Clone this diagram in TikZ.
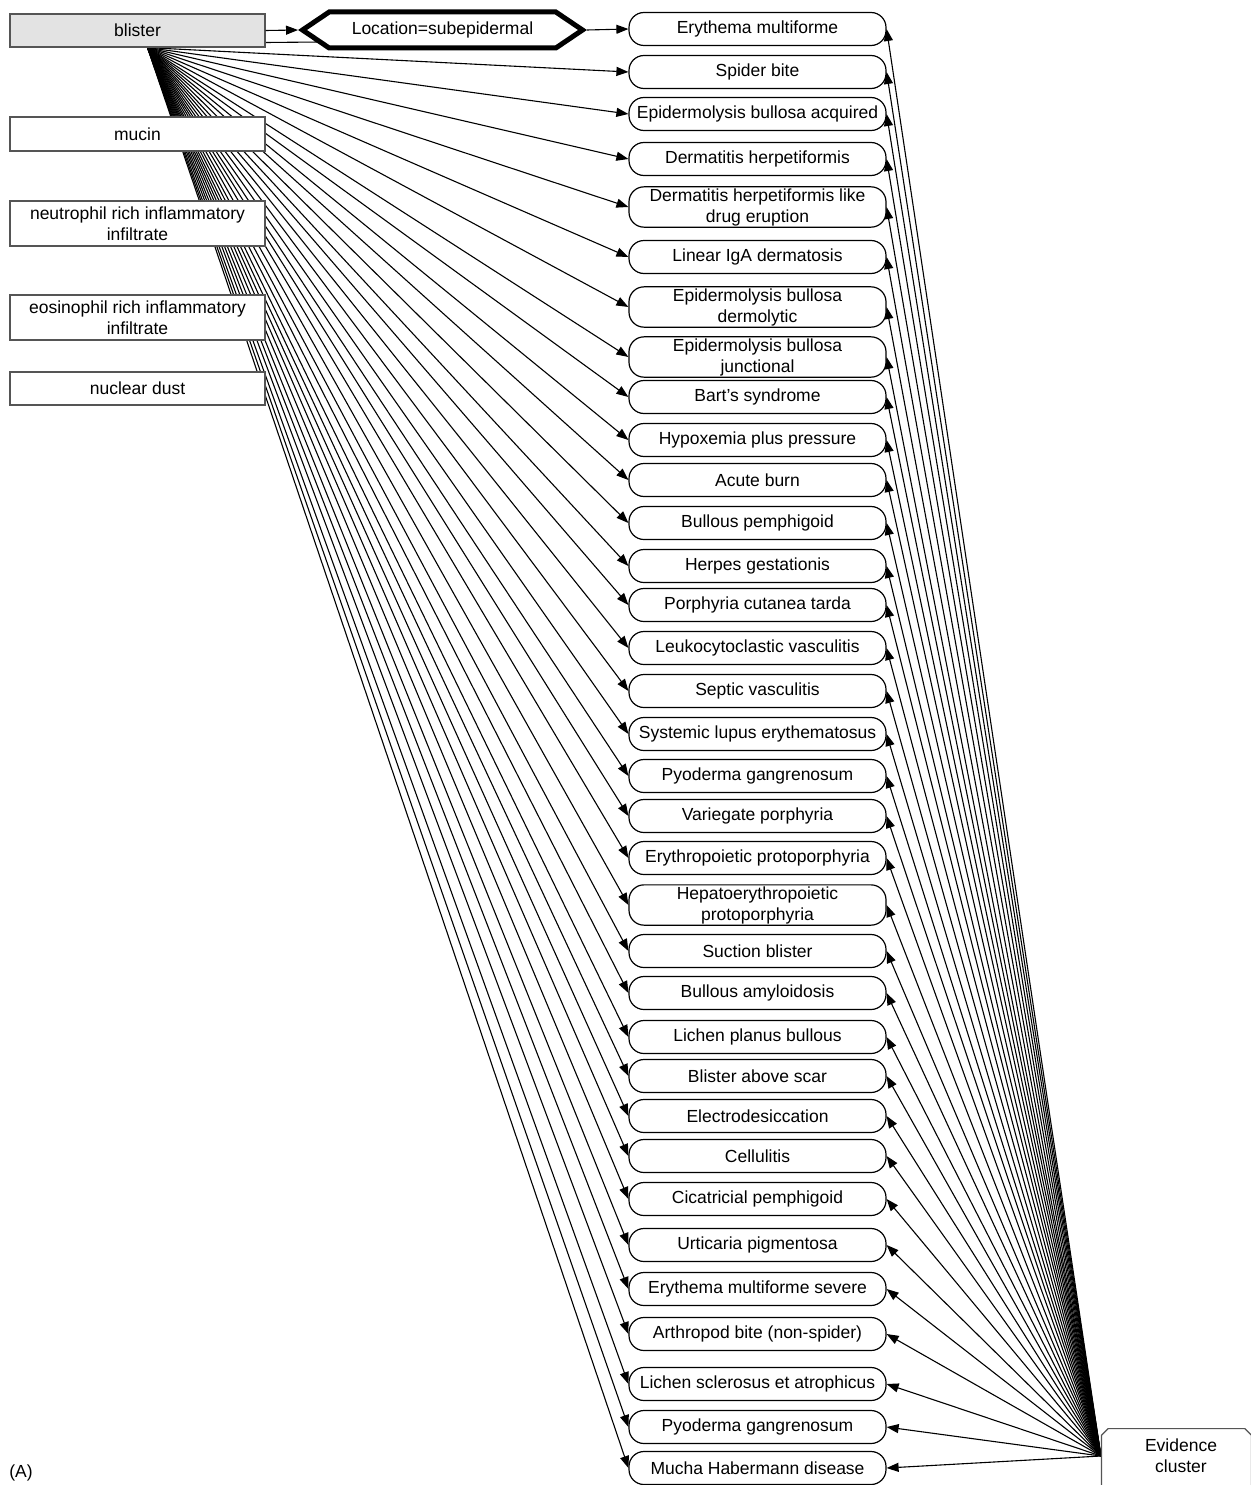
\documentclass[tikz,border=0pt]{standalone}
\usepackage{fontspec}
\setmainfont{Liberation Sans}
\usepackage{tikz}
\usetikzlibrary{arrows.meta, shapes.misc, shapes.symbols, backgrounds, calc}
\definecolor{blistergray}{HTML}{E3E3E3}
\definecolor{boxedge}{HTML}{555555}

\begin{document}
\begin{tikzpicture}[x=1pt, y=-1pt,
    every node/.style={font=\fontsize{17.5}{21}\selectfont, align=center},
    findbox/.style={draw=boxedge, line width=1.2pt, fill=white,
                    minimum width=255pt, minimum height=34pt, inner sep=2pt},
    dxbox/.style={draw, line width=1.2pt, fill=white, rounded corners=15pt,
                  minimum width=257pt, minimum height=33pt, inner sep=1.5pt},
    evbox/.style={chamfered rectangle, draw=boxedge, line width=1.2pt, fill=white,
                  chamfered rectangle corners={north west, north east},
                  chamfered rectangle sep=14pt,
                  minimum width=150pt, minimum height=100pt},
    arr/.style={-{Triangle[length=12pt, width=9pt]}, line width=1.1pt}]
  \useasboundingbox (0,0) rectangle (1250,1485);
  %% findings (left column)
  \node[findbox, fill=blistergray, minimum height=33pt] (blister) at (137.5,30.5) {blister};
  \node[findbox] (mucin) at (137.5,134) {mucin};
  \node[findbox, minimum height=45pt] (neutro) at (137.5,223.5) {neutrophil rich inflammatory\\infiltrate};
  \node[findbox, minimum height=45pt] (eosino) at (137.5,317.5) {eosinophil rich inflammatory\\infiltrate};
  \node[findbox, minimum height=33pt] (dust) at (137.5,388.5) {nuclear dust};
  \coordinate (bfan) at ([xshift=10pt]blister.south);
  %% location constraint
  \node[signal, signal to=west and east, signal pointer angle=68, draw,
        line width=5pt, fill=white, minimum width=280pt, minimum height=36pt,
        inner sep=0pt] (loc) at (442.5,30) {Location=subepidermal};
  %% diagnoses
  \foreach \n/\y/\t in {
      1/29/Erythema multiforme,
      2/72/Spider bite,
      3/114/Epidermolysis bullosa acquired,
      4/159/Dermatitis herpetiformis,
      5/207/Dermatitis herpetiformis like\\drug eruption,
      6/257/Linear IgA dermatosis,
      7/307/Epidermolysis bullosa\\dermolytic,
      8/357/Epidermolysis bullosa\\junctional,
      9/397/Bart's syndrome,
      10/440/Hypoxemia plus pressure,
      11/480/Acute burn,
      12/523/Bullous pemphigoid,
      13/566/Herpes gestationis,
      14/605/Porphyria cutanea tarda,
      15/648/Leukocytoclastic vasculitis,
      16/691/Septic vasculitis,
      17/734/Systemic lupus erythematosus,
      18/776/Pyoderma gangrenosum,
      19/816/Variegate porphyria,
      20/858/Erythropoietic protoporphyria,
      21/905/Hepatoerythropoietic\\protoporphyria,
      22/951/Suction blister,
      23/993/Bullous amyloidosis,
      24/1037/Lichen planus bullous,
      25/1076/Blister above scar,
      26/1116/Electrodesiccation,
      27/1156/Cellulitis,
      28/1199/Cicatricial pemphigoid,
      29/1245/Urticaria pigmentosa,
      30/1289/Erythema multiforme severe,
      31/1334/Arthropod bite (non-spider),
      32/1384/Lichen sclerosus et atrophicus,
      33/1427/Pyoderma gangrenosum,
      34/1468/Mucha Habermann disease} {
    \node[dxbox] (d\n) at (757.5,\y) {\t};
  }
  %% evidence cluster, cut off by the page edge
  \node[evbox, anchor=north] (ev) at (1176.5,1428) {};
  \node (evt) at (1181,1456) {Evidence\\cluster};
  \coordinate (evin) at (ev.west |- evt.center);
  \node (tag) at (21,1473) {(A)};
  %% connectors
  \draw[arr] (blister.east) -- (loc.west);
  \draw[arr] (loc.east) -- (d1.west);
  \begin{pgfonlayer}{background}
    \draw[line width=1.1pt] ([yshift=-12pt]blister.east) -- ([xshift=22pt, yshift=-12pt]loc.west);
    \foreach \n in {2,...,34}
      \draw[arr] (bfan) -- (d\n.west);
    \foreach \n in {1,...,34}
      \draw[arr] (evin) -- (d\n.east);
  \end{pgfonlayer}
\end{tikzpicture}
\end{document}
